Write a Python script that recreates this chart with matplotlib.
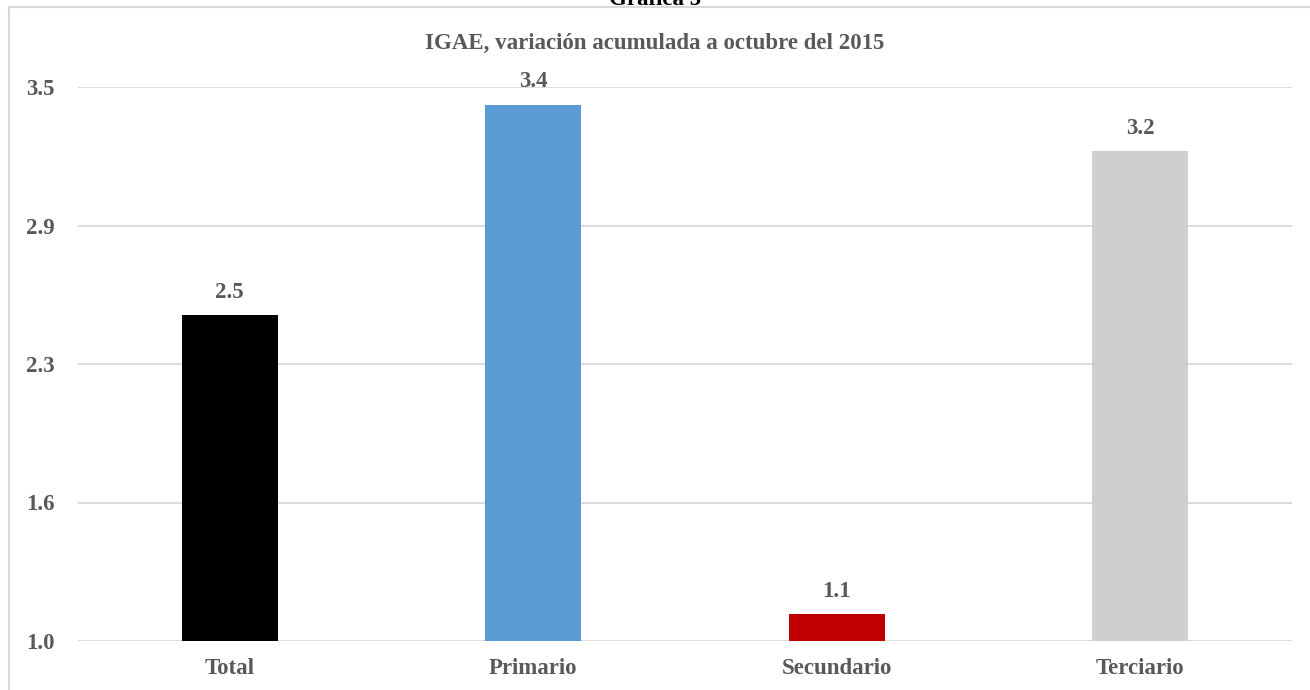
import matplotlib
matplotlib.use("Agg")
import matplotlib.pyplot as plt
from matplotlib.patches import Rectangle

categories = ["Total", "Primario", "Secundario", "Terciario"]
values = [2.47, 3.42, 1.12, 3.21]
value_labels = ["2.5", "3.4", "1.1", "3.2"]
colors = ["#000000", "#5B9BD5", "#C00000", "#D0CECE"]
yticks = [1.0, 1.625, 2.25, 2.875, 3.5]
ytick_labels = ["1.0", "1.6", "2.3", "2.9", "3.5"]

plt.rcParams['font.family'] = ['Liberation Serif', 'DejaVu Serif']
txt = "#595959"
fs = 16.5

W, H = 1310, 690
fig = plt.figure(figsize=(W/100, H/100), dpi=100)
ax = fig.add_axes([78/W, 1-641/H, (1292-78)/W, (641-87)/H])

x = range(len(categories))
base = 1.0
ax.bar(x, [v - base for v in values], bottom=base, width=0.316, color=colors, zorder=3)
for i, (v, lab) in enumerate(zip(values, value_labels)):
    ax.annotate(lab, (i, v), xytext=(0, 23), textcoords="offset pixels", ha="center", va="center",
                fontsize=fs, fontweight="bold", color=txt)

ax.set_xlim(-0.5, 3.5)
ax.set_ylim(1.0, 3.5)
ax.set_yticks(yticks)
ax.set_yticklabels(ytick_labels)
ax.set_xticks(list(x))
ax.set_xticklabels(categories)
ax.grid(axis="y", color="#D9D9D9", linewidth=1.3, zorder=0)
ax.tick_params(axis="both", length=0, labelsize=fs, labelcolor=txt)
ax.tick_params(axis="y", pad=16.5)
ax.tick_params(axis="x", pad=12)
for lbl in ax.get_xticklabels() + ax.get_yticklabels():
    lbl.set_fontweight("bold")
for s in ax.spines.values():
    s.set_visible(False)

fig.text(655/W, 1-43/H, "IGAE, variación acumulada a octubre del 2015", ha="center", va="center",
         fontsize=fs, fontweight="bold", color=txt)
fig.text(655/W, 1-5/H, "Gráfica 5", ha="center", va="baseline", fontsize=fs, fontweight="bold", color="#000000")

fig.patches.append(Rectangle((9/W, -0.1), 1.2, 1 - 7/H + 0.1, transform=fig.transFigure,
                             fill=False, edgecolor="#D9D9D9", linewidth=1.5))

fig.savefig("out.png", dpi=100)
